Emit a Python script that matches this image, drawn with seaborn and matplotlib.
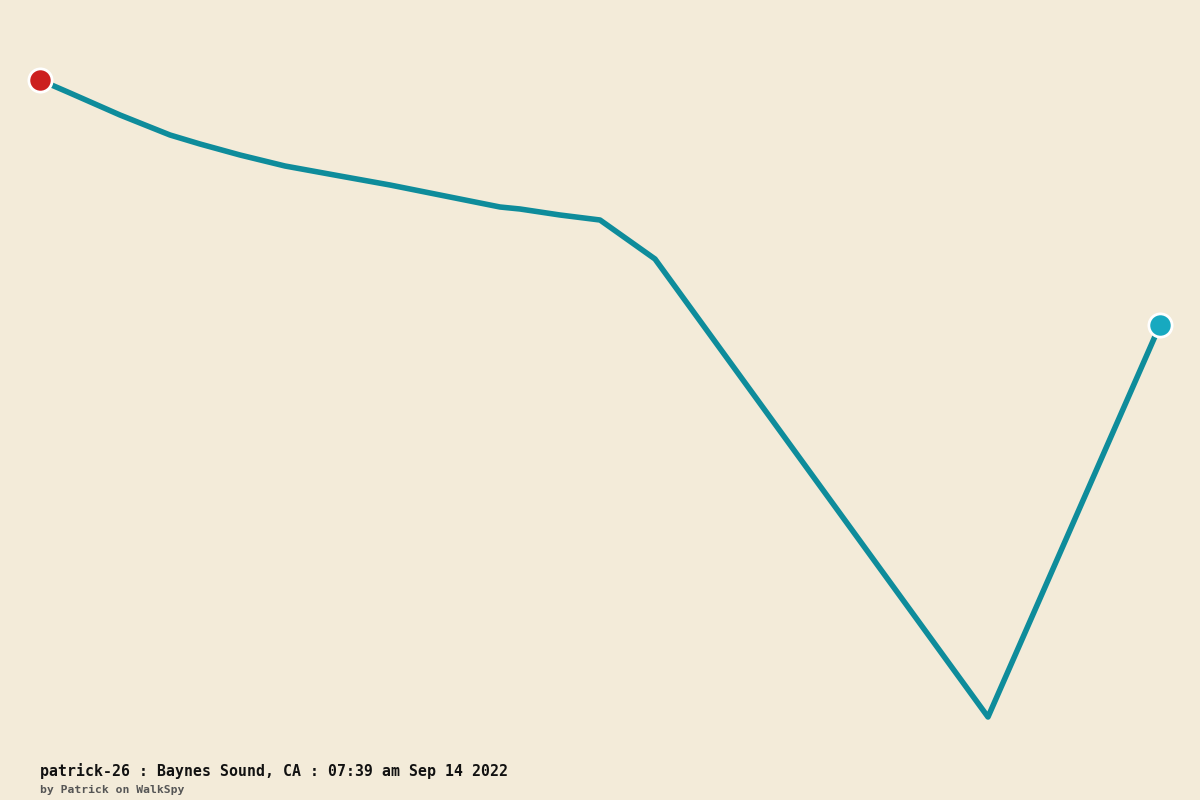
import numpy as np
import pandas as pd
import seaborn as sns
import matplotlib.pyplot as plt

# -----------------------------------------------
# Track data (east / north, plot units)
# -----------------------------------------------
east = [40, 70, 95, 120, 145, 170, 200, 240, 285, 340, 390, 430, 470, 500,
        520, 560, 600, 655, 988, 1160]
north = [720, 707, 696, 685, 675, 665, 656, 645, 634, 624, 615, 607, 599, 593,
         591, 585, 580, 541, 83, 475]

title_text = "patrick-26 : Baynes Sound, CA : 07:39 am Sep 14 2022"
byline_text = "by Patrick on WalkSpy"

df = pd.DataFrame({"east": east, "north": north})

bg = "#F3EBD9"
line_color = "#0E8C9B"

sns.set_theme(style="white")
plt.rcParams['font.family'] = ['DejaVu Sans Mono', 'DejaVu Sans']

fig = plt.figure(figsize=(12, 8), dpi=100, facecolor=bg)
ax = fig.add_axes([0, 0, 1, 1])
ax.set_facecolor(bg)

sns.lineplot(data=df, x="east", y="north", sort=False, color=line_color,
             linewidth=4.0, ax=ax, zorder=2)

# start and end markers
sns.scatterplot(x=[east[0]], y=[north[0]], color="#CC2020", s=280,
                edgecolor="white", linewidth=2, ax=ax, zorder=3)
sns.scatterplot(x=[east[-1]], y=[north[-1]], color="#17A9C0", s=280,
                edgecolor="white", linewidth=2, ax=ax, zorder=3)

ax.set_xlim(0, 1200)
ax.set_ylim(0, 800)
ax.set_axis_off()

fig.text(40 / 1200, 1 - 776 / 800, title_text, fontsize=10.7, fontweight="bold",
         color="#111111", ha="left", va="baseline")
fig.text(40 / 1200, 1 - 793 / 800, byline_text, fontsize=8.2, fontweight="bold",
         color="#555555", ha="left", va="baseline")

fig.savefig("out.png", dpi=100, facecolor=bg)
plt.close()
